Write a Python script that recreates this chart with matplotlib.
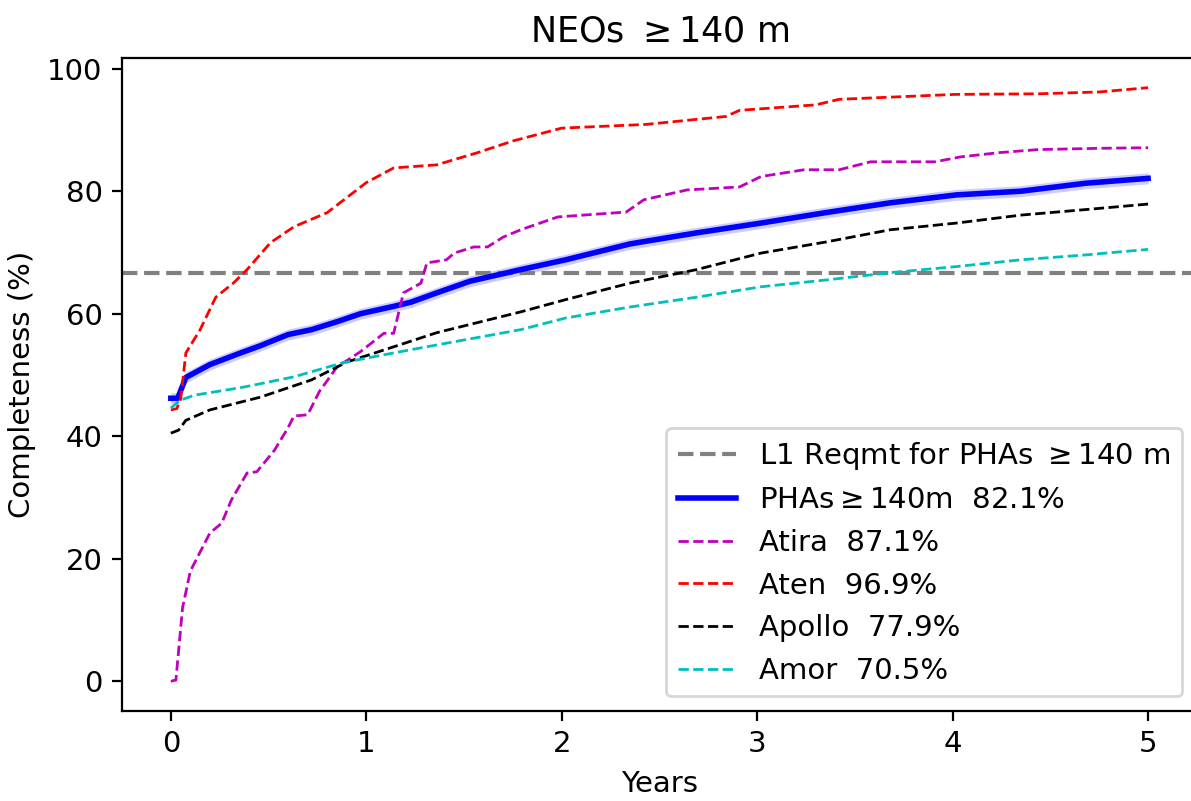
import numpy as np
import matplotlib
matplotlib.use("Agg")
import matplotlib.pyplot as plt

# =========================================================
# DATA
# =========================================================
L1_REQ = 66.7

pha_x = [0, 0.035, 0.077, 0.20, 0.34, 0.46, 0.60, 0.72, 0.86, 0.97, 1.14, 1.23, 1.36,
         1.53, 1.79, 2.02, 2.35, 2.69, 3.02, 3.35, 3.68, 4.02, 4.35, 4.68, 5.0]
pha_y = [46.2, 46.2, 49.6, 51.7, 53.4, 54.8, 56.6, 57.4, 58.8, 60.0, 61.2, 61.9, 63.4,
         65.3, 67.2, 68.8, 71.4, 73.2, 74.8, 76.5, 78.1, 79.4, 80.0, 81.3, 82.1]

atira_x = [0, 0.026, 0.06, 0.10, 0.20, 0.26, 0.31, 0.39, 0.44, 0.53, 0.60, 0.63, 0.70,
           0.76, 0.85, 0.97, 1.09, 1.14, 1.19, 1.28, 1.31, 1.41, 1.45, 1.55, 1.62, 1.70,
           1.79, 1.98, 2.33, 2.42, 2.64, 2.91, 3.02, 3.24, 3.42, 3.58, 3.91, 4.04, 4.24,
           4.44, 4.75, 5.0]
atira_y = [0, 0.2, 12, 18, 24.2, 25.8, 29.6, 34, 34.2, 37.7, 41.4, 43.3, 43.5,
           47.3, 51.3, 53.8, 56.8, 56.8, 63.4, 65, 68.3, 68.8, 69.9, 70.9, 70.9, 72.5,
           73.7, 75.8, 76.6, 78.6, 80.2, 80.7, 82.4, 83.5, 83.5, 84.8, 84.8, 85.6, 86.3,
           86.8, 87.0, 87.1]

aten_x = [0, 0.03, 0.05, 0.077, 0.15, 0.23, 0.32, 0.39, 0.51, 0.63, 0.80, 1.0, 1.14,
          1.36, 1.57, 1.75, 2.0, 2.43, 2.84, 2.91, 3.30, 3.42, 4.01, 4.44, 4.75, 5.0]
aten_y = [44.3, 44.5, 46.0, 53.6, 57.4, 62.7, 65.0, 67.2, 71.6, 74.2, 76.5, 81.4, 83.8,
          84.3, 86.3, 88.2, 90.3, 90.9, 92.2, 93.2, 94.1, 95.0, 95.8, 95.9, 96.2, 96.9]

apollo_x = [0, 0.04, 0.077, 0.20, 0.46, 0.72, 0.90, 1.14, 1.36, 1.79, 2.02, 2.35, 2.69,
            3.02, 3.35, 3.68, 4.02, 4.35, 4.68, 5.0]
apollo_y = [40.5, 41.0, 42.6, 44.3, 46.4, 49.2, 52.1, 54.6, 56.9, 60.3, 62.3, 65.0, 67.2,
            69.9, 71.7, 73.7, 74.8, 76.1, 77.0, 77.9]

amor_x = [0, 0.05, 0.12, 0.37, 0.63, 0.88, 1.14, 1.36, 1.79, 2.02, 2.35, 2.69, 3.02,
          3.35, 3.68, 4.02, 4.35, 4.68, 5.0]
amor_y = [44.6, 45.9, 46.7, 48.0, 49.7, 52.0, 53.6, 54.9, 57.4, 59.3, 61.1, 62.7, 64.4,
          65.5, 66.7, 67.7, 68.8, 69.6, 70.5]

band = 0.9  # half width of the shaded band around the PHA curve

# =========================================================
# FIGURE
# =========================================================
plt.rcParams['font.size'] = 10.5

fig = plt.figure(figsize=(5.955, 4.005), dpi=200)
ax = fig.add_axes([0.1024, 0.1124, 0.9026, 0.8152])

ax.axhline(L1_REQ, color='gray', ls='--', lw=1.5,
           label=r'L1 Reqmt for PHAs $\geq$140 m')

pha_x_arr = np.array(pha_x)
pha_y_arr = np.array(pha_y)
ax.fill_between(pha_x_arr, pha_y_arr - band, pha_y_arr + band, color='b', alpha=0.2, lw=0)
ax.plot(pha_x, pha_y, 'b-', lw=2, label=r'PHAs$\geq$140m  %.1f%%' % pha_y[-1])

ax.plot(atira_x, atira_y, 'm--', lw=1, label='Atira  %.1f%%' % atira_y[-1])
ax.plot(aten_x, aten_y, 'r--', lw=1, label='Aten  %.1f%%' % aten_y[-1])
ax.plot(apollo_x, apollo_y, 'k--', lw=1, label='Apollo  %.1f%%' % apollo_y[-1])
ax.plot(amor_x, amor_y, 'c--', lw=1, label='Amor  %.1f%%' % amor_y[-1])

ax.set_title(r'NEOs $\geq$140 m')
ax.set_xlabel('Years')
ax.set_ylabel('Completeness (%)')
ax.legend(loc='lower right')

fig.savefig('out.png', dpi=200)
